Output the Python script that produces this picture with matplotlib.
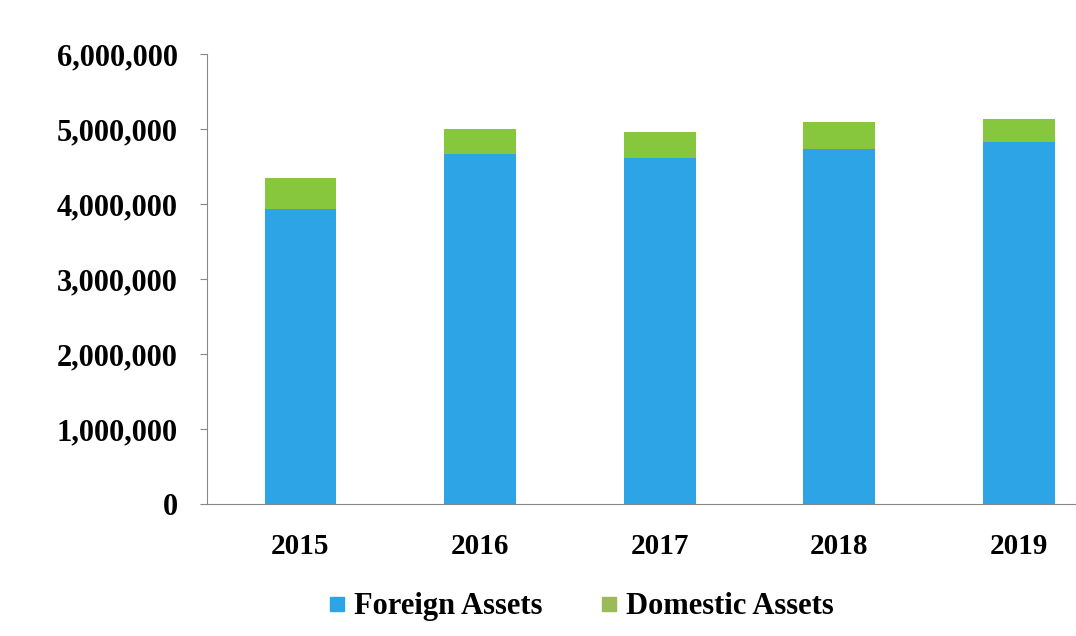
import numpy as np
import matplotlib
matplotlib.use("Agg")
import matplotlib.pyplot as plt
from matplotlib.lines import Line2D
from matplotlib.ticker import FuncFormatter

years = ["2015", "2016", "2017", "2018", "2019"]
foreign = [3930000, 4670000, 4610000, 4730000, 4830000]
domestic = [420000, 330000, 350000, 360000, 300000]

blue = "#2DA4E6"
green = "#86C73E"

plt.rcParams['font.family'] = ['Liberation Serif', 'DejaVu Serif']
plt.rcParams['font.weight'] = 'bold'

fig = plt.figure(figsize=(10.76, 6.36), dpi=100)
ax = fig.add_axes([0.1924, 0.2075, 0.838, 0.7075])

x = np.arange(len(years))
ax.bar(x, foreign, width=0.4, color=blue)
ax.bar(x, domestic, width=0.4, bottom=foreign, color=green)

ax.set_xlim(-0.52, 4.5)
ax.set_ylim(0, 6000000)
ax.set_yticks(np.arange(0, 6000001, 1000000))
ax.yaxis.set_major_formatter(FuncFormatter(lambda v, p: f"{int(v):,}"))
ax.set_xticks(x)
ax.set_xticklabels(years)

for s in ["top", "right"]:
    ax.spines[s].set_visible(False)
ax.spines["left"].set_color("#888888")
ax.spines["bottom"].set_color("#888888")
ax.tick_params(axis="y", length=5, color="#888888", pad=16, labelsize=22)
ax.tick_params(axis="x", length=0, pad=21, labelsize=21)
for lab in ax.get_xticklabels() + ax.get_yticklabels():
    lab.set_fontweight("bold")

handles = [Line2D([], [], marker="s", linestyle="none", markersize=10, color=blue),
           Line2D([], [], marker="s", linestyle="none", markersize=10, color="#9BBB59")]
fig.legend(handles, ["Foreign Assets", "Domestic Assets"], loc="center",
           bbox_to_anchor=(0.539, 0.046), ncol=2, frameon=False,
           prop={"size": 22, "weight": "bold"}, handletextpad=0.2,
           columnspacing=1.85, handlelength=0.7)

fig.savefig("out.png", dpi=100)
